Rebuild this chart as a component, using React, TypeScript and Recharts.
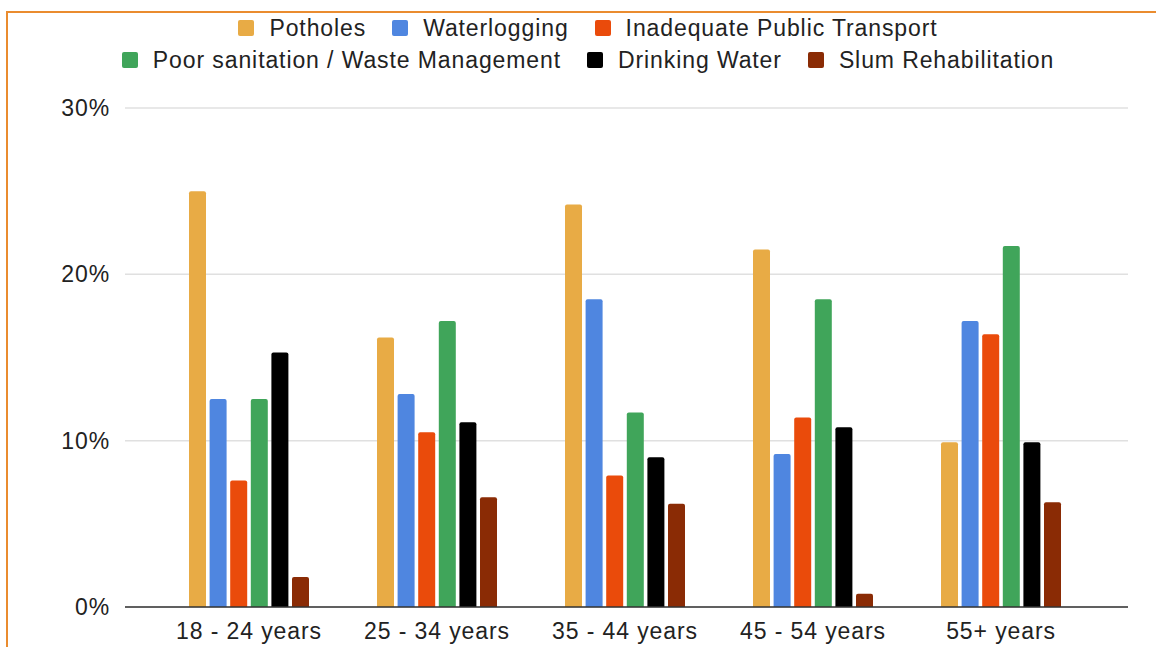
import React from "react";
import { BarChart, Bar, XAxis, YAxis, CartesianGrid, Legend } from "recharts";

const categories = ["18 - 24 years", "25 - 34 years", "35 - 44 years", "45 - 54 years", "55+ years"];
const potholes = [25.0, 16.2, 24.2, 21.5, 9.9];
const waterlogging = [12.5, 12.8, 18.5, 9.2, 17.2];
const transport = [7.6, 10.5, 7.9, 11.4, 16.4];
const sanitation = [12.5, 17.2, 11.7, 18.5, 21.7];
const drinking = [15.3, 11.1, 9.0, 10.8, 9.9];
const slum = [1.8, 6.6, 6.2, 0.8, 6.3];
const yTicks = [0, 10, 20, 30];

const seriesNames = [
  "Potholes",
  "Waterlogging",
  "Inadequate Public Transport",
  "Poor sanitation / Waste Management",
  "Drinking Water",
  "Slum Rehabilitation",
];
const seriesKeys = ["potholes", "waterlogging", "transport", "sanitation", "drinking", "slum"];
const seriesColors = ["#E8AB45", "#4F86E0", "#EA4B0B", "#40A55A", "#000000", "#8A2B05"];

const data = categories.map((c, i) => ({
  category: c,
  potholes: potholes[i],
  waterlogging: waterlogging[i],
  transport: transport[i],
  sanitation: sanitation[i],
  drinking: drinking[i],
  slum: slum[i],
}));

const renderLegend = (props: any) => {
  const payload = [...(props.payload || [])].sort(
    (a: any, b: any) => seriesNames.indexOf(a.value) - seriesNames.indexOf(b.value)
  );
  const rows = [payload.slice(0, 3), payload.slice(3)];
  return (
    <div style={{ height: 64, paddingLeft: 20, boxSizing: "border-box" }}>
      {rows.map((row: any[], i: number) => (
        <div
          key={i}
          style={{ display: "flex", justifyContent: "center", alignItems: "center", height: 32 }}
        >
          {row.map((e: any, j: number) => (
            <div key={j} style={{ display: "flex", alignItems: "center", marginLeft: j ? 26 : 0 }}>
              <span
                style={{
                  display: "inline-block",
                  width: 16,
                  height: 16,
                  background: e.color,
                  borderRadius: 2,
                  marginRight: 15,
                }}
              />
              <span style={{ fontSize: 23, color: "#222", lineHeight: "32px" }}>{e.value}</span>
            </div>
          ))}
        </div>
      ))}
    </div>
  );
};

export default function App() {
  return (
    <div
      style={{
        position: "absolute",
        left: 0,
        top: 0,
        width: 1156,
        height: 647,
        overflow: "hidden",
        background: "#fff",
        fontFamily: '"Liberation Sans", Arial, sans-serif',
        letterSpacing: "0.9px",
      }}
    >
      <div
        style={{
          position: "absolute",
          left: 6,
          top: 11,
          width: 1300,
          height: 800,
          border: "2px solid #EA8C2F",
        }}
      />
      <div style={{ position: "absolute", left: 0, top: 0 }}>
        <BarChart
          width={1156}
          height={647}
          data={data}
          margin={{ top: 44, right: 28, bottom: 0, left: 0 }}
          barSize={17}
          barGap={3.6}
        >
          <CartesianGrid vertical={false} stroke="#E0E0E0" strokeWidth={1.5} />
          <XAxis
            dataKey="category"
            padding={{ left: 30, right: 33 }}
            axisLine={{ stroke: "#333", strokeWidth: 1.5 }}
            tickLine={false}
            tickSize={0}
            tickMargin={16}
            height={40}
            tick={{ fill: "#222", fontSize: 23 }}
            interval={0}
          />
          <YAxis
            domain={[0, 30]}
            ticks={yTicks}
            tickFormatter={(v: number) => `${v}%`}
            axisLine={false}
            tickLine={false}
            tickSize={0}
            tickMargin={15}
            width={125}
            tick={{ fill: "#222", fontSize: 23 }}
          />
          <Legend
            verticalAlign="top"
            content={renderLegend}
            wrapperStyle={{ top: 12, left: 0, width: 1156 }}
          />
          {seriesKeys.map((k, i) => (
            <Bar
              key={k}
              dataKey={k}
              name={seriesNames[i]}
              fill={seriesColors[i]}
              radius={[2, 2, 0, 0]}
              isAnimationActive={false}
            />
          ))}
        </BarChart>
      </div>
    </div>
  );
}
